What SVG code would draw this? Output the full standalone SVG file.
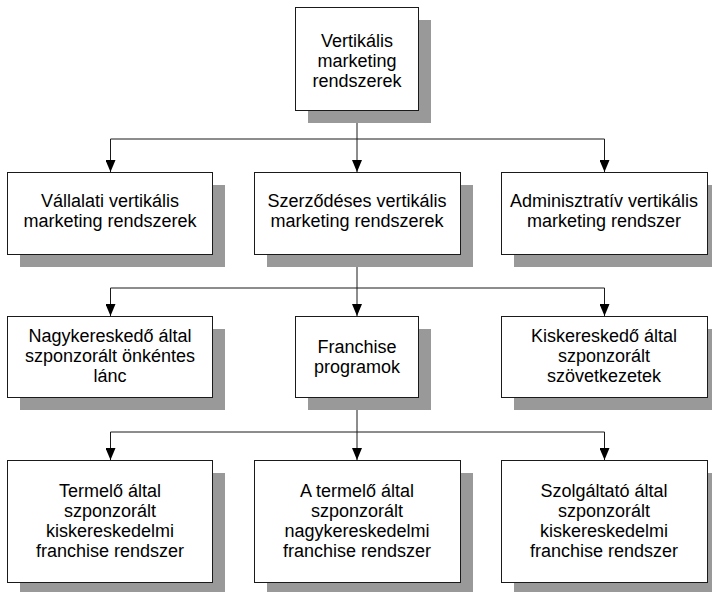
<svg xmlns="http://www.w3.org/2000/svg" width="712" height="592" viewBox="0 0 712 592">
  <defs>
    <marker id="arrow" viewBox="0 0 12 10" refX="12" refY="5" markerWidth="12" markerHeight="10" markerUnits="userSpaceOnUse" orient="auto">
      <path d="M0,0 L12,5 L0,10 Z" fill="#000"/>
    </marker>
    <style>
      .shadow { fill: #999999; }
      .box { fill: #ffffff; stroke: #1a1a1a; stroke-width: 1; }
      .label { font-family: "Liberation Sans", Arial, sans-serif; font-size: 18px; fill: #000; text-anchor: middle; }
      .conn { fill: none; stroke: #1a1a1a; stroke-width: 1; }
    </style>
  </defs>
  <rect width="712" height="592" fill="#ffffff"/>

  <!-- connectors: trunk, bus line and arrowed drops per level -->
  <g id="connectors">
    <path class="conn" d="M357,110 V139 M110.5,139 H604.5"/>
    <path class="conn" d="M110.5,139 V172" marker-end="url(#arrow)"/>
    <path class="conn" d="M357,139 V172" marker-end="url(#arrow)"/>
    <path class="conn" d="M604.5,139 V172" marker-end="url(#arrow)"/>

    <path class="conn" d="M357,255 V288 M110.5,288 H604.5"/>
    <path class="conn" d="M110.5,288 V316" marker-end="url(#arrow)"/>
    <path class="conn" d="M357,288 V316" marker-end="url(#arrow)"/>
    <path class="conn" d="M604.5,288 V316" marker-end="url(#arrow)"/>

    <path class="conn" d="M357,398 V432 M110.5,432 H604.5"/>
    <path class="conn" d="M110.5,432 V460" marker-end="url(#arrow)"/>
    <path class="conn" d="M357,432 V460" marker-end="url(#arrow)"/>
    <path class="conn" d="M604.5,432 V460" marker-end="url(#arrow)"/>
  </g>

  <!-- level 0 -->
  <g id="n-root">
    <rect class="shadow" x="308" y="20" width="123" height="103"/>
    <rect class="box" x="295.5" y="7.5" width="123" height="103"/>
    <text class="label" x="357" y="47">Vertikális</text>
    <text class="label" x="357" y="67">marketing</text>
    <text class="label" x="357" y="87">rendszerek</text>
  </g>

  <!-- level 1 -->
  <g id="n-vallalati">
    <rect class="shadow" x="20" y="185" width="205" height="82"/>
    <rect class="box" x="7.5" y="172.5" width="205" height="82"/>
    <text class="label" x="110" y="207">Vállalati vertikális</text>
    <text class="label" x="110" y="227">marketing rendszerek</text>
  </g>
  <g id="n-szerzodeses">
    <rect class="shadow" x="267" y="185" width="206" height="82"/>
    <rect class="box" x="254.5" y="172.5" width="206" height="82"/>
    <text class="label" x="357" y="207">Szerződéses vertikális</text>
    <text class="label" x="357" y="227">marketing rendszerek</text>
  </g>
  <g id="n-adminisztrativ">
    <rect class="shadow" x="514" y="185" width="206" height="82"/>
    <rect class="box" x="501.5" y="172.5" width="206" height="82"/>
    <text class="label" x="604" y="207">Adminisztratív vertikális</text>
    <text class="label" x="604" y="227">marketing rendszer</text>
  </g>

  <!-- level 2 -->
  <g id="n-nagykereskedo">
    <rect class="shadow" x="20" y="329" width="205" height="81"/>
    <rect class="box" x="7.5" y="316.5" width="205" height="81"/>
    <text class="label" x="110" y="342">Nagykereskedő által</text>
    <text class="label" x="110" y="362">szponzorált önkéntes</text>
    <text class="label" x="110" y="382">lánc</text>
  </g>
  <g id="n-franchise">
    <rect class="shadow" x="308" y="329" width="123" height="81"/>
    <rect class="box" x="295.5" y="316.5" width="123" height="81"/>
    <text class="label" x="357" y="353">Franchise</text>
    <text class="label" x="357" y="373">programok</text>
  </g>
  <g id="n-kiskereskedo">
    <rect class="shadow" x="514" y="329" width="206" height="81"/>
    <rect class="box" x="501.5" y="316.5" width="206" height="81"/>
    <text class="label" x="604" y="342">Kiskereskedő által</text>
    <text class="label" x="604" y="362">szponzorált</text>
    <text class="label" x="604" y="382">szövetkezetek</text>
  </g>

  <!-- level 3 -->
  <g id="n-termelo-kisker">
    <rect class="shadow" x="20" y="473" width="205" height="122"/>
    <rect class="box" x="7.5" y="460.5" width="205" height="122"/>
    <text class="label" x="110" y="497">Termelő által</text>
    <text class="label" x="110" y="517">szponzorált</text>
    <text class="label" x="110" y="537">kiskereskedelmi</text>
    <text class="label" x="110" y="557">franchise rendszer</text>
  </g>
  <g id="n-termelo-nagyker">
    <rect class="shadow" x="267" y="473" width="206" height="122"/>
    <rect class="box" x="254.5" y="460.5" width="206" height="122"/>
    <text class="label" x="357" y="497">A termelő által</text>
    <text class="label" x="357" y="517">szponzorált</text>
    <text class="label" x="357" y="537">nagykereskedelmi</text>
    <text class="label" x="357" y="557">franchise rendszer</text>
  </g>
  <g id="n-szolgaltato">
    <rect class="shadow" x="514" y="473" width="206" height="122"/>
    <rect class="box" x="501.5" y="460.5" width="206" height="122"/>
    <text class="label" x="604" y="497">Szolgáltató által</text>
    <text class="label" x="604" y="517">szponzorált</text>
    <text class="label" x="604" y="537">kiskereskedelmi</text>
    <text class="label" x="604" y="557">franchise rendszer</text>
  </g>
</svg>
